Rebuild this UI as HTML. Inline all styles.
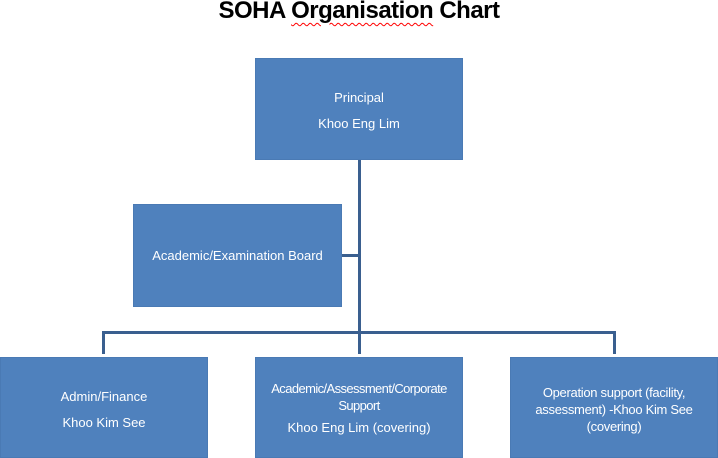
<!DOCTYPE html>
<html><head><style>
body{margin:0;width:718px;height:458px;background:#fff;position:relative;overflow:hidden;font-family:"Liberation Sans",sans-serif}
.t{position:absolute;left:0;width:718px;top:-3px;text-align:center;font-weight:bold;font-size:24px;color:#000;letter-spacing:-0.5px}
.b{position:absolute;background:#4f81bd;color:#fff;font-size:13px;display:flex;flex-direction:column;justify-content:center;align-items:center;text-align:center;line-height:16px;box-sizing:border-box;border:1px solid #4a7ab4;white-space:nowrap}
.b p{margin:3px 0}
.l{position:absolute;background:#3a5f8f}
</style></head><body>
<div class="t">SOHA <span style="text-decoration:underline wavy red;text-decoration-thickness:1px;text-underline-offset:4px">Organisation</span> Chart</div>
<div class="b" style="left:255px;top:58px;width:208px;height:102px;justify-content:flex-start;padding-top:28px"><p>Principal</p><p style="margin-top:7px">Khoo Eng Lim</p></div>
<div class="b" style="left:133px;top:204px;width:209px;height:103px;justify-content:flex-start;padding-top:40px"><p>Academic/Examination Board</p></div>
<div class="l" style="left:358px;top:160px;width:3px;height:194px"></div>
<div class="l" style="left:342px;top:254px;width:17px;height:3px"></div>
<div class="l" style="left:102px;top:331px;width:514px;height:3px"></div>
<div class="l" style="left:102px;top:331px;width:3px;height:23px"></div>
<div class="l" style="left:613px;top:331px;width:3px;height:23px"></div>
<div class="b" style="left:0;top:357px;width:208px;height:101px;justify-content:flex-start;padding-top:28px"><p>Admin/Finance</p><p style="margin-top:7px">Khoo Kim See</p></div>
<div class="b" style="left:255px;top:357px;width:208px;height:101px;justify-content:flex-start;padding-top:22px"><p style="margin:0;line-height:17px;letter-spacing:-0.6px">Academic/Assessment/Corporate<br>Support</p><p style="margin-top:6px">Khoo Eng Lim (covering)</p></div>
<div class="b" style="left:510px;top:357px;width:208px;height:101px;justify-content:flex-start;padding-top:26px"><p style="margin:0;line-height:17px;letter-spacing:-0.3px">Operation support (facility,<br>assessment) -Khoo Kim See<br>(covering)</p></div>
</body></html>
